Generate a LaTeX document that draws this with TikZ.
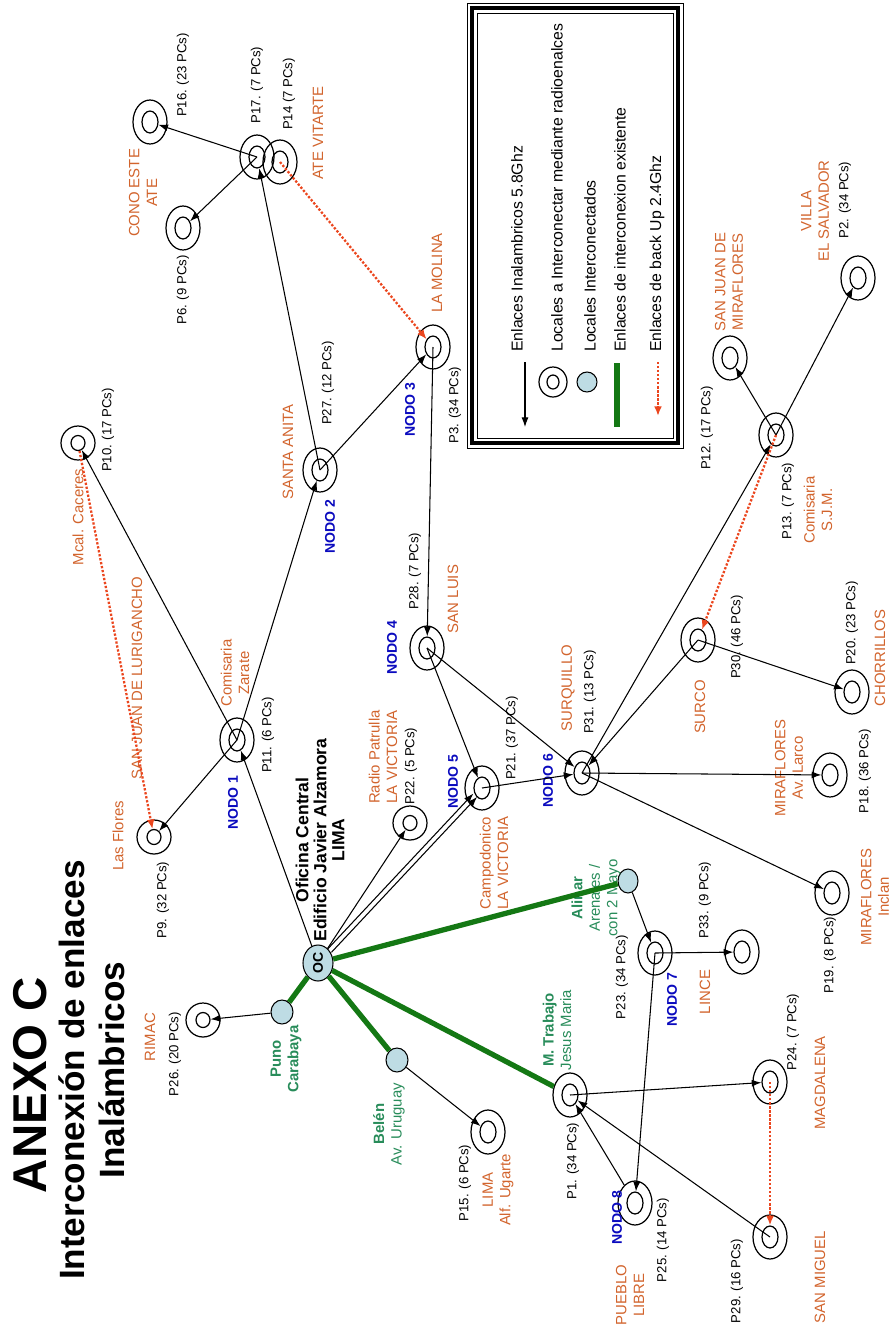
\documentclass[tikz,border=0pt]{standalone}
\usepackage{fontspec}
\setmainfont{Liberation Sans}
\usetikzlibrary{shapes.geometric, arrows.meta, positioning}
\definecolor{placeorange}{RGB}{210,100,45}
\definecolor{nodoblue}{RGB}{10,10,190}
\definecolor{localgreen}{RGB}{40,140,90}
\definecolor{trunkgreen}{RGB}{20,120,20}
\definecolor{backred}{RGB}{235,70,30}
\definecolor{hubblue}{RGB}{190,220,228}
\tikzset{
  ring/.style={draw, ellipse, line width=0.7pt, inner sep=0pt, minimum width=0.68cm, minimum height=0.88cm},
  core/.style={draw, ellipse, line width=0.7pt, inner sep=0pt, minimum width=0.32cm, minimum height=0.44cm},
  smallring/.style={ring, minimum height=0.68cm},
  smallcore/.style={core, minimum width=0.28cm, minimum height=0.3cm},
  hub/.style={draw, ellipse, fill=hubblue, line width=0.6pt, inner sep=0pt, minimum width=0.44cm, minimum height=0.48cm},
  link/.style={-{Latex[length=5.5pt,width=4pt]}, line width=0.6pt},
  backup/.style={-{Latex[length=5.5pt,width=4.5pt]}, densely dotted, line width=1.3pt, color=backred},
  trunk/.style={line width=3pt, color=trunkgreen},
  pcs/.style={rotate=90, inner sep=0pt, font=\fontsize{7.5}{9}\selectfont},
  town/.style={rotate=90, inner sep=0pt, align=center, text=placeorange, font=\fontsize{8.5}{10}\selectfont},
  nodo/.style={rotate=90, inner sep=0pt, text=nodoblue, font=\fontsize{8}{9}\selectfont\bfseries},
  local/.style={rotate=90, inner sep=0pt, align=center, text=localgreen, font=\fontsize{8.5}{10}\selectfont},
  legend/.style={rotate=90, anchor=west, inner sep=0pt, font=\fontsize{9}{11}\selectfont}
}
\begin{document}
\begin{tikzpicture}[x=0.02cm, y=-0.02cm]
	\useasboundingbox (0,0) rectangle (890,1329);

	% title
	\node[rotate=90, font=\fontsize{27}{30}\selectfont\bfseries] (anexo) at (30,1085) {ANEXO C};
	\node[rotate=90, align=center, font=\fontsize{20}{23}\selectfont\bfseries] (subt) at (92,1070) {Interconexi\'on de enlaces\\Inal\'ambricos};

	% legend
	\draw (467,3) rectangle (683,448);
	\draw[line width=2.3pt] (472,8) rectangle (678,443);
	\draw (477,13) rectangle (673,438);
	\coordinate (lga) at (525,362);
	\coordinate (lgb) at (525,427);
	\draw[link] (lga) -- (lgb);
	\node[legend] (lgt1) at (517,352) {Enlaces Inalambricos 5.8Ghz};
	\node[ring, minimum width=0.56cm, minimum height=0.6cm] (lgring) at (553,382) {};
	\node[core, minimum width=0.24cm, minimum height=0.28cm] (lgcore) at (553,382) {};
	\node[legend] (lgt2) at (557,352) {Locales a Interconectar mediante radioenalces};
	\node[hub, minimum width=0.4cm, minimum height=0.4cm] (lghub) at (587,382) {};
	\node[legend] (lgt3) at (590,352) {Locales Interconectados};
	\coordinate (lgc) at (617,363);
	\coordinate (lgd) at (617,427);
	\draw[trunk, line width=3.4pt] (lgc) -- (lgd);
	\node[legend] (lgt4) at (620,352) {Enlaces de interconexion existente};
	\coordinate (lge) at (658,362);
	\coordinate (lgf) at (658,416);
	\draw[backup] (lge) -- (lgf);
	\node[legend] (lgt5) at (657,352) {Enlaces de back Up 2.4Ghz};

	% locales interconectados
	\node[hub, minimum width=0.6cm, minimum height=0.72cm] (oc) at (318,963) {};
	\node[rotate=90, font=\fontsize{8}{9}\selectfont\bfseries] (octxt) at (oc) {OC};
	\node[hub] (puno) at (282,1012) {};
	\node[hub] (belen) at (397,1060) {};
	\node[hub, minimum width=0.4cm] (alinar) at (628,881) {};

	% locales a interconectar
	\node[ring] (p16-r) at (150,122) {}; \node[core] (p16) at (150,122) {};
	\node[ring] (p17-r) at (257,157) {}; \node[core] (p17) at (257,157) {};
	\node[ring] (p14-r) at (280,162) {}; \node[core] (p14) at (280,162) {};
	\node[ring] (p6-r) at (183,228) {};  \node[core] (p6) at (183,228) {};
	\node[ring] (p3-r) at (433,347) {};  \node[core] (p3) at (433,347) {};
	\node[smallring] (p10-r) at (78,443) {}; \node[smallcore] (p10) at (78,443) {};
	\node[ring] (p27-r) at (320,470) {}; \node[core] (p27) at (320,470) {};
	\node[ring] (p11-r) at (237,740) {}; \node[core] (p11) at (237,740) {};
	\node[smallring] (p9-r) at (154,837) {}; \node[smallcore] (p9) at (154,837) {};
	\node[ring] (p28-r) at (427,648) {}; \node[core] (p28) at (427,648) {};
	\node[smallring] (p22-r) at (410,823) {}; \node[smallcore] (p22) at (410,823) {};
	\node[ring] (p21-r) at (482,788) {}; \node[core] (p21) at (482,788) {};
	\node[ring] (p31-r) at (582,773) {}; \node[core] (p31) at (582,773) {};
	\node[ring] (p30-r) at (698,640) {}; \node[core] (p30) at (698,640) {};
	\node[ring] (p20-r) at (852,692) {}; \node[core] (p20) at (852,692) {};
	\node[ring] (p18-r) at (830,775) {}; \node[core] (p18) at (830,775) {};
	\node[ring] (p13-r) at (776,435) {}; \node[core] (p13) at (776,435) {};
	\node[ring] (p12-r) at (730,358) {}; \node[core] (p12) at (730,358) {};
	\node[ring] (p2-r) at (858,278) {};  \node[core] (p2) at (858,278) {};
	\node[ring] (p19-r) at (832,893) {}; \node[core] (p19) at (832,893) {};
	\node[ring] (p23-r) at (655,953) {}; \node[core] (p23) at (655,953) {};
	\node[ring] (p33-r) at (742,952) {}; \node[core] (p33) at (742,952) {};
	\node[ring] (p1-r) at (570,1095) {}; \node[core] (p1) at (570,1095) {};
	\node[ring] (p24-r) at (770,1082) {}; \node[core] (p24) at (770,1082) {};
	\node[ring] (p25-r) at (635,1203) {}; \node[core] (p25) at (635,1203) {};
	\node[ring] (p29-r) at (770,1237) {}; \node[core] (p29) at (770,1237) {};
	\node[ring] (p15-r) at (488,1132) {}; \node[core] (p15) at (488,1132) {};
	\node[smallring] (p26-r) at (203,1020) {}; \node[smallcore] (p26) at (203,1020) {};

	% PCs
	\node[pcs] (l16) at (183,75) {P16. (23 PCs)};
	\node[pcs] (l17) at (257,85) {P17. (7 PCs)};
	\node[pcs] (l14) at (289,94) {P14 (7 PCs)};
	\node[pcs] (l6) at (183,290) {P6. (9 PCs)};
	\node[pcs] (l27) at (328,383) {P27. (12 PCs)};
	\node[pcs] (l3) at (455,405) {P3. (34 PCs)};
	\node[pcs] (l10) at (108,430) {P10. (17 PCs)};
	\node[pcs] (l11) at (268,735) {P11. (6 PCs)};
	\node[pcs] (l9) at (163,900) {P9. (32 PCs)};
	\node[pcs] (l22) at (411,766) {P22. (5 PCs)};
	\node[pcs] (l28) at (415,571) {P28. (7 PCs)};
	\node[pcs] (l21) at (512,738) {P21. (37 PCs)};
	\node[pcs] (l31) at (590,692) {P31. (13 PCs)};
	\node[pcs] (l30) at (737,637) {P30. (46 PCs)};
	\node[pcs] (l20) at (852,623) {P20. (23 PCs)};
	\node[pcs] (l18) at (865,771) {P18. (36 PCs)};
	\node[pcs] (l13) at (788,501) {P13. (7 PCs)};
	\node[pcs] (l12) at (707,428) {P12. (17 PCs)};
	\node[pcs] (l2) at (845,200) {P2. (34 PCs)};
	\node[pcs] (l19) at (830,955) {P19. (8 PCs)};
	\node[pcs] (l33) at (705,900) {P33. (9 PCs)};
	\node[pcs] (l23) at (622,977) {P23. (34 PCs)};
	\node[pcs] (l1) at (573,1161) {P1. (34 PCs)};
	\node[pcs] (l25) at (663,1240) {P25. (14 PCs)};
	\node[pcs] (l29) at (737,1281) {P29. (16 PCs)};
	\node[pcs] (l24) at (793,1032) {P24. (7 PCs)};
	\node[pcs] (l15) at (465,1183) {P15. (6 PCs)};
	\node[pcs] (l26) at (175,1054) {P26. (20 PCs)};

	% places
	\node[town] (n16) at (143,193) {CONO ESTE\\ATE};
	\node[town] (n14) at (318,133) {ATE VITARTE};
	\node[town] (n3) at (437,273) {LA MOLINA};
	\node[town] (n27) at (288,452) {SANTA ANITA};
	\node[town] (n10) at (78,517) {Mcal. Caceres};
	\node[town] (nsjl) at (137,678) {SAN JUAN DE LURIGANCHO};
	\node[town] (n11) at (235,673) {Comisaria\\Zarate};
	\node[town] (n9) at (118,836) {Las Flores};
	\node[town] (n22) at (383,757) {Radio Patrulla\\LA VICTORIA};
	\node[town] (n28) at (453,599) {SAN LUIS};
	\node[town] (n21) at (494,863) {Campodonico\\LA VICTORIA};
	\node[town] (n31) at (568,688) {SURQUILLO};
	\node[town] (n30) at (700,707) {SURCO};
	\node[town] (n20) at (880,658) {CHORRILLOS};
	\node[town] (n18) at (789,768) {MIRAFLORES\\Av. Larco};
	\node[town] (n13) at (818,510) {Comisaria\\S.J.M.};
	\node[town] (n12) at (729,282) {SAN JUAN DE\\MIRAFLORES};
	\node[town] (n2) at (815,211) {VILLA\\EL SALVADOR};
	\node[town] (n19) at (875,897) {MIRAFLORES\\Inclan};
	\node[town] (n33) at (705,992) {LINCE};
	\node[town] (n25) at (630,1295) {PUEBLO\\LIBRE};
	\node[town] (n29) at (820,1277) {SAN MIGUEL};
	\node[town] (n24) at (820,1083) {MAGDALENA};
	\node[town] (n15) at (498,1190) {LIMA\\Alf. Ugarte};
	\node[town] (n26) at (150,1037) {RIMAC};

	% nodos
	\node[nodo] (nodo1) at (233,803) {NODO 1};
	\node[nodo] (nodo2) at (330,527) {NODO 2};
	\node[nodo] (nodo3) at (410,410) {NODO 3};
	\node[nodo] (nodo4) at (392,648) {NODO 4};
	\node[nodo] (nodo5) at (453,782) {NODO 5};
	\node[nodo] (nodo6) at (548,781) {NODO 6};
	\node[nodo] (nodo7) at (672,1000) {NODO 7};
	\node[nodo] (nodo8) at (617,1218) {NODO 8};

	% oficina central y locales
	\node[rotate=90, align=center, font=\fontsize{10}{10.3}\selectfont\bfseries] (ofic) at (320,840) {Oficina Central\\Edificio Javier Alzamora\\LIMA};
	\node[local, anchor=west] (npuno) at (286,1093) {\textbf{Puno}\\\textbf{Carabaya}};
	\node[local] (nbelen) at (389,1124) {\textbf{Bel\'en}\\Av. Uruguay};
	\node[local] (nalinar) at (596,898) {\textbf{Alinar}\\Arenales /\\con 2 Mayo};
	\node[local] (np1) at (557,1030) {\textbf{M. Trabajo}\\Jesus Maria};

	% enlaces existentes
	\draw[trunk] (oc) -- (puno);
	\draw[trunk] (oc) -- (belen);
	\draw[trunk] (oc) -- (alinar);
	\draw[trunk] (oc) -- (p1-r);

	% enlaces 5.8Ghz
	\draw[link] (oc) -- (p11);
	\draw[link] (p11.center) -- (p10);
	\draw[link] (p11.center) -- (p9);
	\draw[link] (p11.center) -- (p27);
	\draw[link] (p27.center) -- (p3);
	\draw[link] (p27.center) -- (p17);
	\draw[link] (p17.center) -- (p16);
	\draw[link] (p17.center) -- (p6);
	\draw[link] (p3.center) -- (p28);
	\draw[link] (p28.center) -- (p21);
	\draw[link] (p28.center) -- (p31);
	\draw[link] (p21.center) -- (p31);
	\draw[link] (oc) -- (p22);
	\draw[link, transform canvas={xshift=-0.037cm, yshift=0.034cm}] (oc) -- (p21);
	\draw[link, transform canvas={xshift=0.037cm, yshift=-0.034cm}] (oc) -- (p21);
	\draw[link] (p31.center) -- (p13);
	\draw[link] (p30.center) -- (p31);
	\draw[link] (p31.center) -- (p18);
	\draw[link] (p31.center) -- (p19);
	\draw[link] (p30.center) -- (p20);
	\draw[link] (p13.center) -- (p12);
	\draw[link] (p13.center) -- (p2);
	\draw[link] (puno) -- (p26);
	\draw[link] (belen) -- (p15);
	\draw[link] (alinar) -- (p23);
	\draw[link] (p23.center) -- (p33);
	\draw[link] (p23.center) -- (p25);
	\draw[link] (p1.center) -- (p24);
	\draw[link] (p25-r) -- (p1);
	\draw[link] (p29.center) -- (p1);

	% back up 2.4Ghz
	\draw[backup] (p14.center) -- (p3);
	\draw[backup] (p10) -- (p9);
	\draw[backup] (p13.center) -- (p30);
	\draw[backup] (p24.center) -- (p29);
\end{tikzpicture}
\end{document}
